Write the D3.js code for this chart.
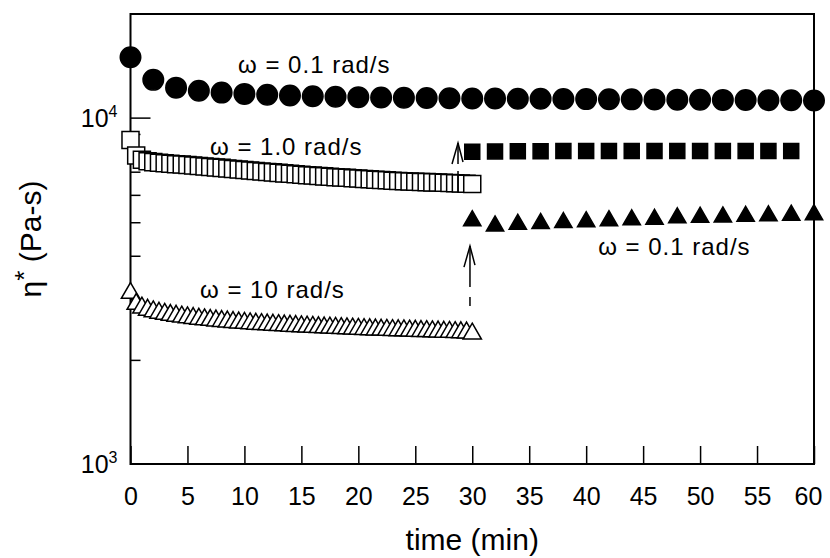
<!DOCTYPE html>
<html>
<head>
<meta charset="utf-8">
<script src="https://cdn.jsdelivr.net/npm/d3@7"></script>
<style>
  body { margin: 0; background: #fff; }
  svg { display: block; font-family: "Liberation Sans", Arial, sans-serif; }
</style>
</head>
<body>
<svg id="chart"></svg>
<script>
// omega = 0.1 rad/s, whole run (filled circles), every 2 min
const timeCircles = [0, 2, 4, 6, 8, 10, 12, 14, 16, 18, 20, 22, 24, 26, 28, 30,
    32, 34, 36, 38, 40, 42, 44, 46, 48, 50, 52, 54, 56, 58, 60];
const etaCircles = [15000, 12900, 12250, 12000, 11850, 11750, 11680, 11620, 11570, 11530, 11500,
    11470, 11450, 11430, 11410, 11400, 11390, 11380, 11370, 11360, 11350,
    11340, 11330, 11320, 11310, 11300, 11290, 11280, 11270, 11260, 11250];

// first 30 min, dense sampling (open symbols)
const timeDense = [0, 0.5, 1, 1.5, 2, 2.5, 3, 3.5, 4, 4.5, 5, 5.5, 6, 6.5, 7, 7.5, 8, 8.5, 9, 9.5,
    10, 10.5, 11, 11.5, 12, 12.5, 13, 13.5, 14, 14.5, 15, 15.5, 16, 16.5, 17, 17.5, 18, 18.5, 19, 19.5,
    20, 20.5, 21, 21.5, 22, 22.5, 23, 23.5, 24, 24.5, 25, 25.5, 26, 26.5, 27, 27.5, 28, 28.5, 29, 29.5, 30];
// omega = 1.0 rad/s (open squares)
const etaSquaresOpen = [8650, 7800, 7580, 7500, 7460, 7430, 7400, 7380, 7360, 7340, 7320, 7295, 7270, 7250,
    7225, 7200, 7180, 7155, 7130, 7105, 7080, 7058, 7035, 7012, 6990, 6968, 6945, 6922, 6900, 6880,
    6860, 6840, 6820, 6802, 6785, 6768, 6750, 6735, 6720, 6705, 6690, 6672, 6655, 6638, 6620, 6608,
    6595, 6582, 6570, 6560, 6550, 6540, 6530, 6520, 6510, 6500, 6490, 6480, 6470, 6460, 6450];
// omega = 10 rad/s (open triangles)
const etaTrianglesOpen = [3120, 2900, 2830, 2790, 2760, 2735, 2715, 2695, 2680, 2665, 2652, 2640, 2628, 2617,
    2607, 2597, 2588, 2579, 2571, 2563, 2556, 2549, 2542, 2536, 2530, 2524, 2519, 2513, 2508, 2503,
    2498, 2493, 2489, 2484, 2480, 2476, 2472, 2468, 2464, 2460, 2457, 2453, 2450, 2446, 2443, 2440,
    2437, 2434, 2431, 2428, 2425, 2422, 2419, 2416, 2413, 2410, 2407, 2404, 2401, 2398, 2380];

// after switching to 0.1 rad/s (filled squares / filled triangles)
const timeSquaresAfter = [30, 32, 34, 36, 38, 40, 42, 44, 46, 48, 50, 52, 54, 56, 58];
const etaSquaresAfter = [8000, 8010, 8020, 8020, 8030, 8030, 8030, 8040, 8040, 8040, 8040, 8030, 8030, 8030, 8030];
const timeTrianglesAfter = [30, 32, 34, 36, 38, 40, 42, 44, 46, 48, 50, 52, 54, 56, 58, 60];
const etaTrianglesAfter = [5050, 4880, 4930, 4960, 4990, 5020, 5050, 5080, 5100, 5150, 5170, 5180, 5200, 5220, 5240, 5260];

const xTicks = [0, 5, 10, 15, 20, 25, 30, 35, 40, 45, 50, 55, 60];
const yMinorTicks = [2000, 3000, 4000, 5000, 6000, 7000, 8000, 9000];
const yMajorTicks = [{ value: 1000, exp: "3" }, { value: 10000, exp: "4" }];

const width = 830, height = 558;
const margin = { top: 14, right: 16, bottom: 94, left: 130.5 };

const svg = d3.select("#chart")
    .attr("width", width)
    .attr("height", height);

svg.append("rect").attr("width", width).attr("height", height).attr("fill", "#fff");

const x = d3.scaleLinear().domain([0, 60]).range([margin.left, width - margin.right]);
const y = d3.scaleLog().domain([1000, 20000]).range([height - margin.bottom, margin.top]);

// x axis, ticks pointing inward
const xAxis = svg.append("g")
    .attr("transform", `translate(0, ${height - margin.bottom})`)
    .call(d3.axisBottom(x).tickValues(xTicks).tickSizeInner(-18).tickSizeOuter(0).tickPadding(23));
xAxis.select(".domain").remove();
xAxis.selectAll("line").attr("stroke", "#000").attr("stroke-width", 1.5);
xAxis.selectAll("text")
    .attr("font-family", "Liberation Sans, Arial, sans-serif")
    .attr("font-size", 25)
    .attr("fill", "#000")
    .attr("dx", d => d === 60 ? -6 : 0);

// y axis, minor + major ticks inward
const yAxis = svg.append("g")
    .attr("transform", `translate(${margin.left}, 0)`)
    .call(d3.axisLeft(y).tickValues(yMinorTicks).tickSizeInner(-10).tickSizeOuter(0).tickFormat(""));
yAxis.select(".domain").remove();
yAxis.selectAll("line").attr("stroke", "#000").attr("stroke-width", 1.5);

yMajorTicks.forEach(t => {
    svg.append("line")
        .attr("x1", margin.left).attr("x2", margin.left + 20)
        .attr("y1", y(t.value)).attr("y2", y(t.value))
        .attr("stroke", "#000").attr("stroke-width", 1.5);
    const lbl = svg.append("text")
        .attr("x", margin.left - 13)
        .attr("y", y(t.value) + 9)
        .attr("text-anchor", "end")
        .attr("font-size", 25);
    lbl.append("tspan").text("10");
    lbl.append("tspan").attr("font-size", 16).attr("dy", -10).text(t.exp);
});

// frame
svg.append("rect")
    .attr("x", margin.left).attr("y", margin.top)
    .attr("width", width - margin.left - margin.right)
    .attr("height", height - margin.top - margin.bottom)
    .attr("fill", "none").attr("stroke", "#000").attr("stroke-width", 2);

function drawSeries(times, values, type, size, filled) {
    const sym = d3.symbol().type(type).size(size);
    svg.append("g").selectAll("path")
        .data(times.map((t, i) => ({ t, v: values[i] })))
        .enter().append("path")
        .attr("d", sym)
        .attr("transform", d => `translate(${x(d.t)}, ${y(d.v)})`)
        .attr("fill", filled ? "#000" : "#fff")
        .attr("stroke", "#000")
        .attr("stroke-width", 1.5);
}

drawSeries(timeCircles, etaCircles, d3.symbolCircle, 330, true);
drawSeries(timeDense, etaSquaresOpen, d3.symbolSquare, 290, false);
drawSeries(timeDense, etaTrianglesOpen, d3.symbolTriangle, 145, false);
drawSeries(timeSquaresAfter, etaSquaresAfter, d3.symbolSquare, 225, true);
drawSeries(timeTrianglesAfter, etaTrianglesAfter, d3.symbolTriangle, 130, true);

// dashed arrows marking the switch in frequency (time, top value, bottom value)
function arrow(t, vTop, vBottom, dash) {
    const xPos = x(t), yTop = y(vTop), yBottom = y(vBottom);
    svg.append("line")
        .attr("x1", xPos).attr("x2", xPos)
        .attr("y1", yTop).attr("y2", yBottom)
        .attr("stroke", "#000").attr("stroke-width", 1.5)
        .attr("stroke-dasharray", dash);
    svg.append("path")
        .attr("d", `M${xPos - 6},${yTop + 21} L${xPos},${yTop} L${xPos + 5},${yTop + 19}`)
        .attr("fill", "none").attr("stroke", "#000").attr("stroke-width", 1.5);
}
arrow(28.75, 8470, 6110, "21,7");
arrow(29.8, 4266, 2864, "41,10");

// annotations, anchored in data coordinates
const notes = [
    { text: "\u03c9 = 0.1 rad/s", t: 9.44, v: 13490 },
    { text: "\u03c9 = 1.0 rad/s", t: 6.98, v: 7820 },
    { text: "\u03c9 = 10 rad/s", t: 6.10, v: 3018 },
    { text: "\u03c9 = 0.1 rad/s", t: 41.05, v: 4018 }
];
svg.selectAll(".note")
    .data(notes)
    .enter().append("text")
    .attr("class", "note")
    .attr("x", d => x(d.t)).attr("y", d => y(d.v))
    .attr("font-size", 24)
    .attr("letter-spacing", 1)
    .text(d => d.text);

// axis titles
svg.append("text")
    .attr("x", (margin.left + width - margin.right) / 2)
    .attr("y", 550)
    .attr("text-anchor", "middle")
    .attr("font-size", 30)
    .text("time (min)");

const yTitle = svg.append("text")
    .attr("transform", `translate(41, ${(margin.top + height - margin.bottom) / 2}) rotate(-90)`)
    .attr("text-anchor", "middle")
    .attr("font-size", 30);
yTitle.append("tspan").text("\u03b7");
yTitle.append("tspan").attr("dy", -8).attr("font-size", 26).text("*");
yTitle.append("tspan").attr("dy", 8).text(" (Pa-s)");
</script>
</body>
</html>
